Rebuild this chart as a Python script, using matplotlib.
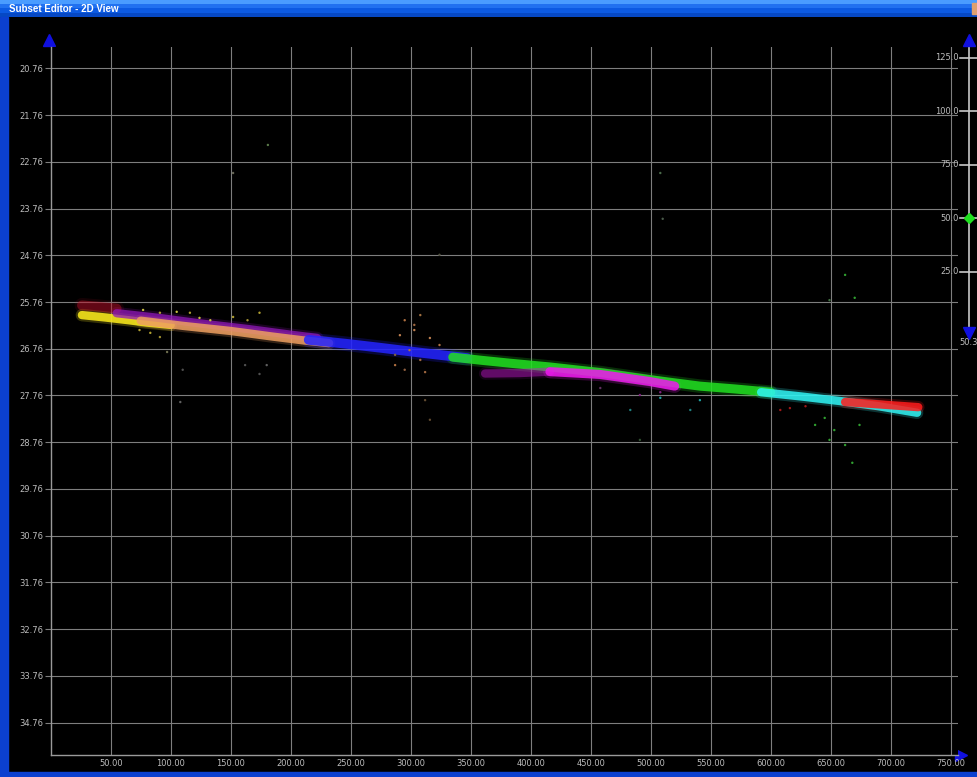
import numpy as np
import matplotlib
matplotlib.use("Agg")
import matplotlib.pyplot as plt
from matplotlib.patches import Rectangle
from matplotlib.colors import LinearSegmentedColormap

# axis ticks
x_ticks = [50, 100, 150, 200, 250, 300, 350, 400, 450, 500, 550, 600, 650, 700, 750]
y_ticks = [20.76, 21.76, 22.76, 23.76, 24.76, 25.76, 26.76, 27.76,
           28.76, 29.76, 30.76, 31.76, 32.76, 33.76, 34.76]

# band of points, read per colour subset
red_l_x = [26, 40, 55]
red_l_y = [25.83, 25.86, 25.90]
yellow_x = [26, 45, 65, 80, 100]
yellow_y = [26.04, 26.09, 26.15, 26.20, 26.25]
purple_x = [55, 90, 125, 165, 200, 222]
purple_y = [26.00, 26.10, 26.22, 26.34, 26.46, 26.53]
orange_x = [75, 110, 150, 185, 210, 232]
orange_y = [26.16, 26.27, 26.38, 26.50, 26.58, 26.64]
blue_x = [215, 245, 275, 310, 347]
blue_y = [26.57, 26.65, 26.74, 26.85, 26.96]
green_x = [335, 360, 383, 416, 458, 499, 541, 570, 600]
green_y = [26.94, 27.01, 27.07, 27.15, 27.27, 27.42, 27.56, 27.62, 27.69]
magenta_l_x = [362, 391, 416]
magenta_l_y = [27.29, 27.28, 27.25]
magenta_x = [416, 458, 499, 520]
magenta_y = [27.25, 27.31, 27.46, 27.56]
cyan_x = [592, 625, 658, 690, 722]
cyan_y = [27.69, 27.78, 27.88, 27.99, 28.13]
red_x = [662, 690, 723]
red_y = [27.90, 27.95, 28.01]

# stray points
out_x = [181, 152, 508, 510, 662, 670, 649, 108, 110, 97, 162, 174, 180,
         316, 312, 303, 295, 308, 324, 287, 668, 662, 653, 674, 645, 483,
         491, 324,
         77, 91, 105, 116, 124, 83, 91, 74, 133, 152, 164, 174,
         291, 299, 308, 287, 316, 303, 295, 312,
         649, 637, 616, 629, 608, 491, 508, 458, 508, 541, 533]
out_y = [22.40, 23.00, 23.00, 23.98, 25.18, 25.67, 25.72, 27.90, 27.21, 26.83,
         27.11, 27.30, 27.11, 28.28, 27.86, 26.36, 26.15, 26.04, 26.68, 26.89,
         29.20, 28.82, 28.50, 28.39, 28.24, 28.07, 28.71, 24.75,
         25.93, 25.99, 25.97, 25.99, 26.10, 26.42, 26.51, 26.36, 26.15, 26.08,
         26.15, 25.99,
         26.47, 26.79, 27.00, 27.11, 26.53, 26.25, 27.21, 27.26,
         28.71, 28.39, 28.03, 27.99, 28.07, 27.75, 27.69, 27.60, 27.81, 27.86, 28.07]
out_c = ["#5a7a4a", "#6a6a5a", "#4a6a4a", "#4a5a4a", "#30a030", "#30a030",
         "#407040", "#606060", "#505050", "#707050", "#505050", "#505050",
         "#606060", "#604a30", "#604a30", "#c08050", "#b07040", "#a07040",
         "#b07040", "#806040", "#30a030", "#30a030", "#30a030", "#30a030",
         "#30a030", "#208080", "#305030", "#505040",
         "#c8c040", "#b0a030", "#c8c040", "#b0a030", "#c8c040", "#b0a030",
         "#a09030", "#b0a030", "#c8c040", "#b0a030", "#a09030", "#b0a030",
         "#c08050", "#b07040", "#a06840", "#b07040", "#c08050", "#a06840",
         "#906040", "#a06840",
         "#30a030", "#30a030", "#a01818", "#a01818", "#a01818", "#802080",
         "#802080", "#603060", "#20a0a0", "#20a0a0", "#208080"]

# slider on the right
slider_ticks = [125.0, 100.0, 75.0, 50.0, 25.0]
slider_value = 50.0
slider_low_label = "50.3"

W, H = 978, 777
fig = plt.figure(figsize=(W / 100, H / 100), dpi=100, facecolor="black")

# window chrome in pixel coordinates
bg = fig.add_axes([0, 0, 1, 1])
bg.set_xlim(0, W)
bg.set_ylim(H, 0)
bg.axis("off")
grad = np.array([[0.0], [0.25], [0.6], [1.0]])
tb_cmap = LinearSegmentedColormap.from_list("tb", ["#4a9cff", "#1464ec", "#0a58e0", "#0648c4"])
bg.imshow(grad, cmap=tb_cmap, aspect="auto", extent=[0, W, 17, 0], zorder=1)
bg.add_patch(Rectangle((0, 17), 8, H - 17, color="#0b40d0", zorder=1))
bg.add_patch(Rectangle((0, 772), W, 5, color="#0b40d0", zorder=1))
bg.add_patch(Rectangle((972, 3), 6, 11, color="#e0a070", zorder=2))
bg.text(9, 9, "Subset Editor - 2D View", color="white", fontsize=7,
        fontweight="bold", family="Liberation Sans", va="center", ha="left", zorder=3)

# main plot axes
left_px, right_px, top_px, bot_px = 50.7, 958, 47, 755
ax = fig.add_axes([left_px / W, (H - bot_px) / H, (right_px - left_px) / W,
                   (bot_px - top_px) / H])
ax.set_facecolor("black")
ax.set_xlim(0, (right_px - left_px) / 1.2)
ax.set_ylim(25.76 + (bot_px - 302) / 46.74, 25.76 - (302 - top_px) / 46.74)

ax.set_xticks(x_ticks)
ax.set_xticklabels([f"{v:.2f}" for v in x_ticks])
ax.set_yticks(y_ticks)
ax.set_yticklabels([f"{v:.2f}" for v in y_ticks])
ax.grid(True, color="#7e7e7e", lw=0.8)
ax.tick_params(axis="x", length=0, pad=3, labelsize=6, labelcolor="#bdbdbd")
ax.tick_params(axis="y", length=4.5, width=0.8, color="#7e7e7e", pad=1,
               labelsize=6, labelcolor="#bdbdbd")
for s in ["top", "right"]:
    ax.spines[s].set_visible(False)
for s in ["left", "bottom"]:
    ax.spines[s].set_color("#9a9a9a")
    ax.spines[s].set_linewidth(1.0)

# (x, y, colour, width, core alpha)
segments = [
    (red_l_x, red_l_y, "#c0102a", 7, 0.45),
    (yellow_x, yellow_y, "#f4e41c", 6, 0.9),
    (purple_x, purple_y, "#9018b8", 6, 0.75),
    (orange_x, orange_y, "#eea060", 6, 0.85),
    (blue_x, blue_y, "#2424ff", 7, 0.85),
    (green_x, green_y, "#22e022", 6.5, 0.85),
    (magenta_l_x, magenta_l_y, "#c018c8", 6, 0.45),
    (magenta_x, magenta_y, "#f018f0", 6.5, 0.85),
    (cyan_x, cyan_y, "#30f4f4", 6, 0.85),
    (red_x, red_y, "#ff1c1c", 6, 0.85),
]
for xs, ys, c, lw, a in segments:
    ax.plot(xs, ys, color=c, lw=lw * 1.5, alpha=a * 0.25, solid_capstyle="round", zorder=3)
    ax.plot(xs, ys, color=c, lw=lw, alpha=a, solid_capstyle="round", zorder=4)

ax.scatter(out_x, out_y, c=out_c, s=3, linewidths=0, zorder=5)

# axis arrows
bg.plot([49], [40], marker="^", color="#1010e0", ms=8, zorder=5)
bg.plot([961], [755], marker=">", color="#1010e0", ms=8, zorder=5)

# slider
sl = fig.add_axes([930 / W, (H - 350) / H, 48 / W, 320 / H])
sl.set_xlim(0, 1)
sl.set_ylim(-11.4, 137.9)
sl.axis("off")
sl.patch.set_alpha(0)
sl.plot([0.8125, 0.8125], [-3.5, 133.3], color="#c8c8c8", lw=1.2)
for v in slider_ticks:
    sl.plot([0.625, 0.98], [v, v], color="#c8c8c8", lw=1.2)
    sl.text(0.6, v, f"{v:.1f}", color="#bdbdbd", fontsize=6, ha="right", va="center")
sl.plot([0.8125], [slider_value], marker="D", color="#20e020", ms=5, zorder=5)
sl.plot([0.8125], [133.3], marker="^", color="#1010e0", ms=8, clip_on=False)
sl.plot([0.8125], [-3.5], marker="v", color="#1010e0", ms=8, clip_on=False)
sl.text(0.99, -7.7, slider_low_label, color="#bdbdbd", fontsize=6, ha="right",
        va="center", clip_on=False)

fig.savefig("out.png", dpi=100, facecolor="black")
